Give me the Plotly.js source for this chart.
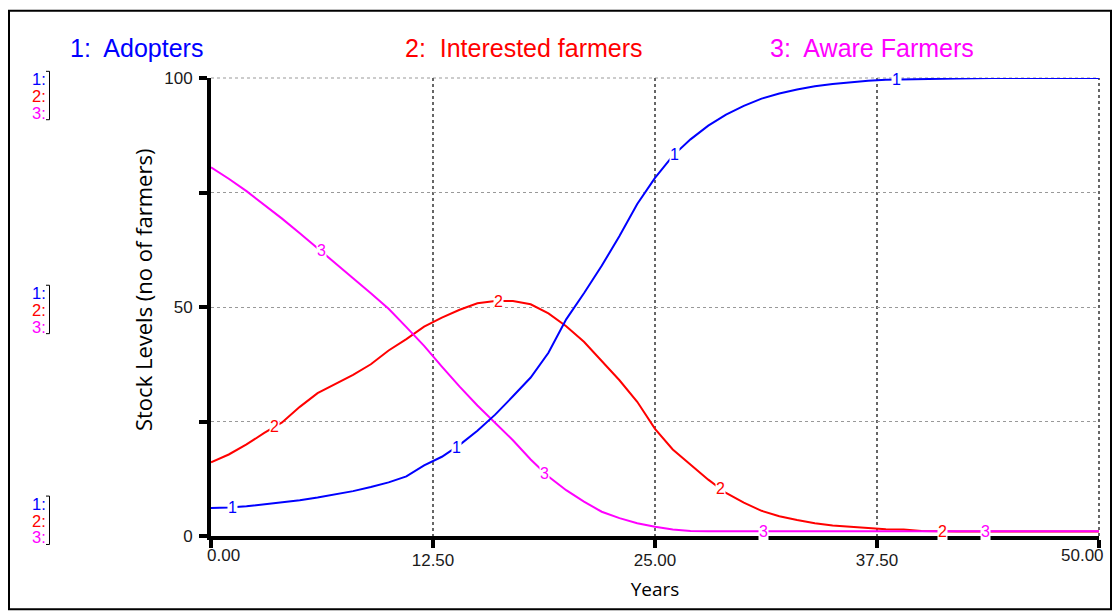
<!DOCTYPE html>
<html>
<head>
<meta charset="utf-8">
<script src="https://cdn.plot.ly/plotly-3.0.1.min.js"></script>
<style>html,body{margin:0;padding:0;background:#fff;}#chart{width:1113px;height:612px;}</style>
</head>
<body>
<div id="chart"></div>
<script>
// ---- data ----
const years = [0,1,2,3,4,5,6,7,8,9,10,11,12,13,14,15,16,17,18,19,20,21,22,23,24,25,26,27,28,29,30,31,32,33,34,35,36,37,38,39,40,42,44,46,48,50];
const adopters = [6.1,6.2,6.5,6.9,7.3,7.8,8.4,9.1,9.8,10.7,11.7,13.0,15.4,17.3,19.9,23.0,26.5,30.5,34.6,40.0,47.3,53.0,59.0,65.5,72.5,78.2,83.0,86.6,89.6,92.0,93.9,95.5,96.6,97.5,98.2,98.7,99.1,99.4,99.6,99.7,99.8,99.9,100,100,100,100];
const interested = [16.1,17.8,20.0,22.5,24.8,28.2,31.2,33.2,35.2,37.5,40.5,43.0,45.7,47.7,49.4,50.8,51.3,51.3,50.6,48.6,45.8,42.4,38.3,34.0,29.3,23.4,18.9,15.5,12.3,9.4,7.3,5.5,4.3,3.5,2.8,2.3,2.0,1.7,1.5,1.4,1.1,1.0,1.0,1.0,1.0,1.0];
const aware = [80.5,78.0,75.3,72.4,69.3,66.1,62.9,59.6,56.3,53.0,49.6,45.6,41.5,37.0,32.6,28.5,24.6,20.9,16.7,13.0,10.0,7.5,5.3,3.9,2.8,2.0,1.4,1.1,1.05,1.05,1.05,1.05,1.05,1.05,1.05,1.05,1.05,1.05,1.05,1.05,1.05,1.05,1.05,1.05,1.05,1.05];

const seriesNames = ['Adopters','Interested farmers','Aware Farmers'];
const seriesColors = ['#0000ff','#ff0000','#ff00ff'];
const seriesData = [adopters, interested, aware];
// years at which the numbered markers sit on each line
const markerYears = [[1.2,13.8,26.1,38.6],[3.6,16.2,28.7,41.2],[6.2,18.8,31.1,43.6]];

const xTickVals = [0,12.5,25,37.5,50];
const xTickText = ['0.00','12.50','25.00','37.50','50.00'];
const yTickVals = [0,25,50,75,100];
const yTickText = ['0','','50','','100'];
const yTitle = 'Stock Levels (no of farmers)';
const xTitle = 'Years';

// ---- layout geometry ----
const L = 211, R = 14, T = 77.5, B = 75.5, W = 1113, H = 612;
const PW = W - L - R, PH = H - T - B;
const px = x => (x - L) / PW;              // pixel x -> paper
const py = y => (H - B - y) / PH;          // pixel y -> paper

function interp(xs, ys, x) {
  for (let i = 0; i < xs.length - 1; i++) {
    if (x >= xs[i] && x <= xs[i+1]) {
      const f = (x - xs[i]) / (xs[i+1] - xs[i]);
      return ys[i] + f * (ys[i+1] - ys[i]);
    }
  }
  return ys[ys.length-1];
}

// draw red, then magenta over it, blue on top
const order = [1,2,0];
const traces = order.map(i => ({
  x: years, y: seriesData[i], type: 'scatter', mode: 'lines',
  name: seriesNames[i], line: {color: seriesColors[i], width: 2}, hoverinfo: 'skip'
}));

const annotations = [];
const FONT = 'Liberation Sans, Arial, sans-serif';
// numbered markers on lines
seriesData.forEach((d, i) => {
  markerYears[i].forEach(t => {
    annotations.push({x: t, y: interp(years, d, t), xref: 'x', yref: 'y', text: String(i+1),
      showarrow: false, bgcolor: '#ffffff', borderpad: 0, xanchor: 'center', yanchor: 'middle',
      font: {family: FONT, size: 16, color: seriesColors[i]}});
  });
});
// top legend
const legendX = [68, 403, 768];
seriesNames.forEach((n, i) => {
  annotations.push({x: px(legendX[i]), y: py(47), xref: 'paper', yref: 'paper', text: (i+1) + ':  ' + n,
    showarrow: false, xanchor: 'left', yanchor: 'middle',
    font: {family: FONT, size: 25, color: seriesColors[i]}});
});
// first and last x tick labels, kept inside the axis ends like the reference
annotations.push({x: px(205), y: py(556), xref: 'paper', yref: 'paper', text: xTickText[0],
  showarrow: false, xanchor: 'left', yanchor: 'middle', font: {family: FONT, size: 17, color: '#1a1a1a'}});
annotations.push({x: px(1106), y: py(556), xref: 'paper', yref: 'paper', text: xTickText[xTickText.length-1],
  showarrow: false, xanchor: 'right', yanchor: 'middle', font: {family: FONT, size: 17, color: '#1a1a1a'}});
const xTickShown = xTickText.map((t, i) => (i === 0 || i === xTickText.length - 1) ? '' : t);
// y axis title (sits a little above the plot centre in the reference)
annotations.push({x: px(143), y: py(290), xref: 'paper', yref: 'paper', text: yTitle, textangle: -90,
  showarrow: false, xanchor: 'center', yanchor: 'middle',
  font: {family: 'Open Sans, sans-serif', size: 22, color: '#000'}});

// left scale keys
const groupTops = [78.3, 292.7, 504];
const shapes = [];
groupTops.forEach(g => {
  for (let i = 0; i < 3; i++) {
    annotations.push({x: px(47.5), y: py(g + i*17), xref: 'paper', yref: 'paper', text: (i+1) + ':',
      showarrow: false, xanchor: 'right', yanchor: 'middle',
      font: {family: FONT, size: 16.5, color: seriesColors[i]}});
  }
  const y0 = g - 7.5, y1 = g + 41;
  shapes.push({type: 'path', xref: 'paper', yref: 'paper',
    path: `M ${px(46)} ${py(y0)} L ${px(49.5)} ${py(y0)} L ${px(49.5)} ${py(y1)} L ${px(46)} ${py(y1)}`,
    line: {color: '#000', width: 1}});
});
// grid lines on the plot edges (plotly drops them)
shapes.push({type: 'line', xref: 'paper', yref: 'paper', x0: 0, x1: 1, y0: 1, y1: 1,
  line: {color: '#999', width: 1, dash: 'dot'}, layer: 'below'});
shapes.push({type: 'line', xref: 'paper', yref: 'paper', x0: 1, x1: 1, y0: 0, y1: 1,
  line: {color: '#666', width: 2, dash: 'dot'}, layer: 'below'});
// outer frame
shapes.push({type: 'rect', xref: 'paper', yref: 'paper', x0: px(9), x1: px(1111), y0: py(610), y1: py(10),
  line: {color: '#000', width: 2}, layer: 'below'});

const layout = {
  width: W, height: H, margin: {l: L, r: R, t: T, b: B}, showlegend: false,
  paper_bgcolor: '#fff', plot_bgcolor: '#fff',
  xaxis: {range: [0, 50], tickvals: xTickVals, ticktext: xTickShown, showgrid: true, gridcolor: '#666',
    griddash: 'dot', gridwidth: 2, zeroline: false, showline: true, linewidth: 4, linecolor: '#000',
    ticks: 'outside', ticklen: 8, tickwidth: 4, tickcolor: '#000', ticklabelstandoff: -2,
    tickfont: {family: FONT, size: 17, color: '#1a1a1a'},
    title: {text: xTitle, font: {family: 'Open Sans, sans-serif', size: 19, color: '#000'}, standoff: 14}},
  yaxis: {range: [0, 100], tickvals: yTickVals, ticktext: yTickText, showgrid: true, gridcolor: '#999',
    griddash: 'dot', gridwidth: 1, zeroline: false, showline: true, linewidth: 4, linecolor: '#000',
    ticks: 'outside', ticklen: 8, tickwidth: 4, tickcolor: '#000', ticklabelstandoff: 3,
    tickfont: {family: FONT, size: 17, color: '#1a1a1a'}},
  annotations: annotations, shapes: shapes
};

Plotly.newPlot('chart', traces, layout, {staticPlot: true});
</script>
</body>
</html>
